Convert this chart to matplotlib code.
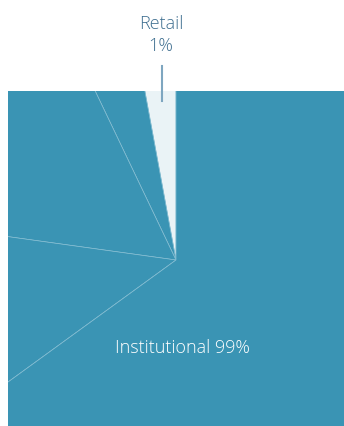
import matplotlib.pyplot as plt

# slice shares as drawn (Retail first, then the institutional pieces)
slice_names = ["Retail", "Institutional A", "Institutional B", "Institutional C", "Institutional D"]
slice_shares = [2.9, 4.2, 15.7, 12.2, 65.0]
slice_colors = ["#eaf3f6", "#3a94b4", "#3a94b4", "#3a94b4", "#3a94b4"]

label_retail = "Retail\n1%"
label_inst = "Institutional 99%"

W, H = 344, 426
fig = plt.figure(figsize=(W / 100, H / 100), dpi=100)

# plot area (pixel box 8..344 x 91..426)
ax = fig.add_axes([8 / W, 0, (W - 8) / W, (H - 91) / H])
wedges, _ = ax.pie(slice_shares, colors=slice_colors, startangle=90, counterclock=True,
                   center=(176, H - 260), radius=600,
                   wedgeprops=dict(edgecolor="#84bdd2", linewidth=0.5))
for w in wedges:
    w.set_clip_on(True)
    w.set_clip_path(ax.patch)
ax.set_xlim(8, W)
ax.set_ylim(0, H - 91)
ax.set_aspect("auto")
ax.axis("off")

# labels
fig.text(161 / W, 1 - 35 / H, label_retail, ha="center", va="center",
         fontsize=13, color="#3f6f90", family="Open Sans", weight="light",
         linespacing=1.3)
fig.add_artist(plt.Line2D([161.5 / W, 161.5 / W], [1 - 66 / H, 1 - 101 / H],
                          color="#7ea6c0", linewidth=1.5))
fig.text(182 / W, 1 - 348 / H, label_inst, ha="center", va="center",
         fontsize=13, color="white", family="Open Sans", weight="light")

fig.savefig("out.png", dpi=100)
